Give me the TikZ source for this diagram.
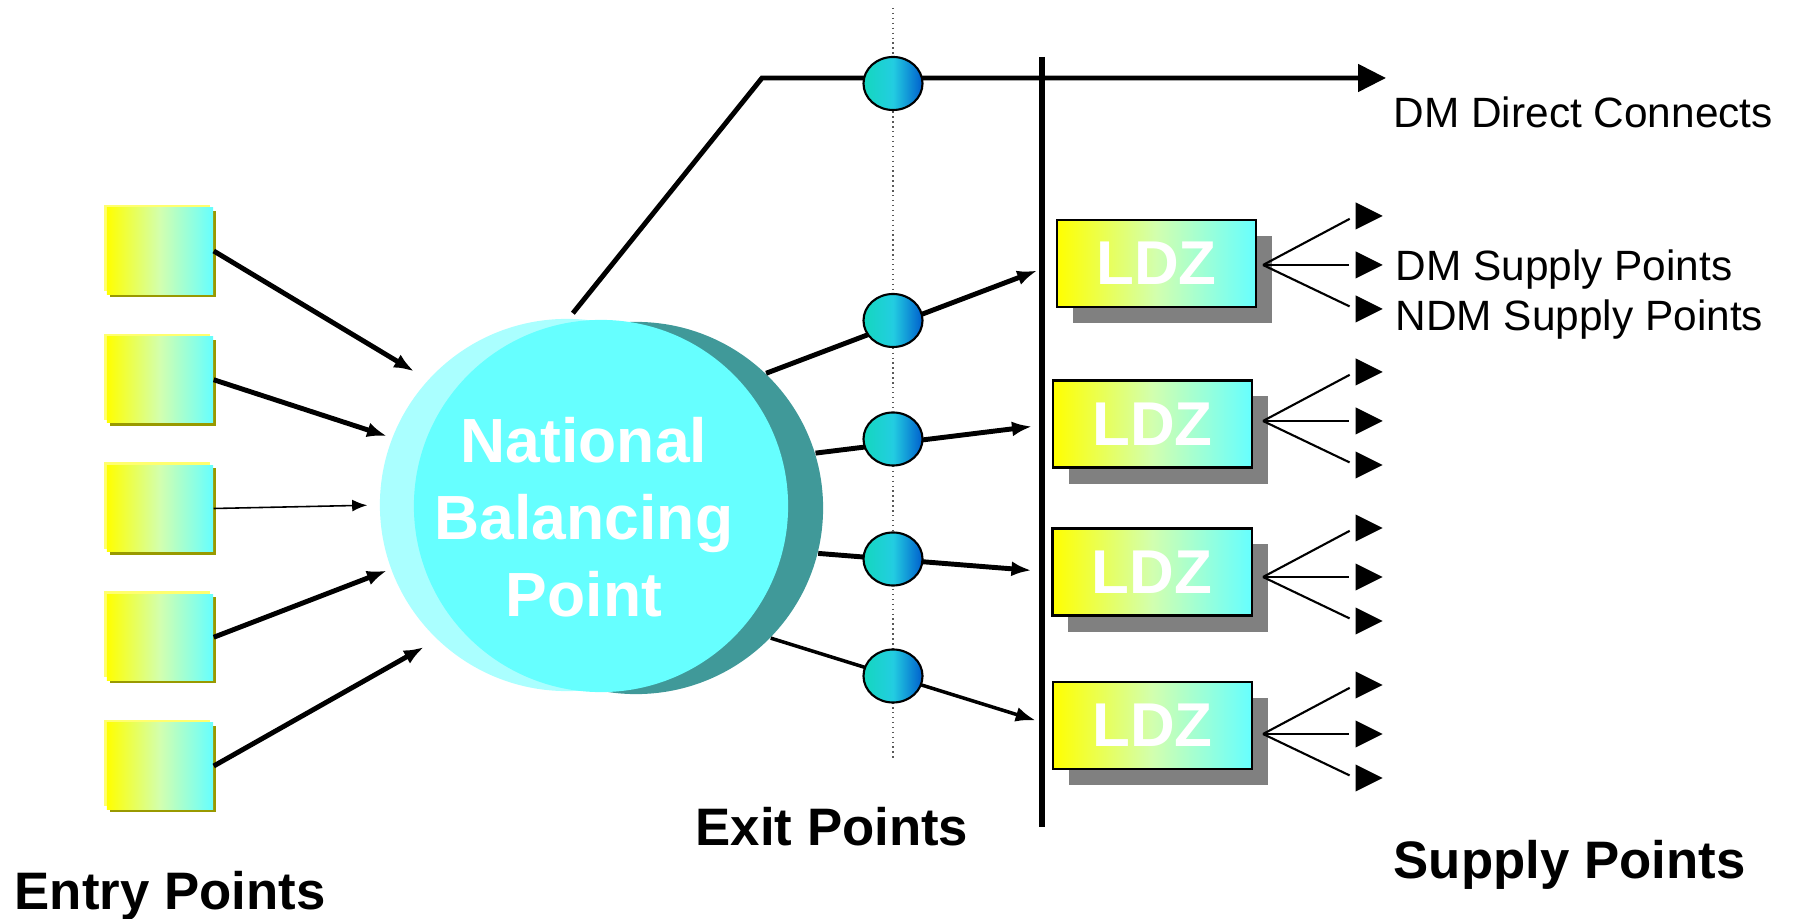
\documentclass[tikz,border=0pt]{standalone}
\usepackage{fontspec}
\setmainfont{Liberation Sans}
\usepackage{tikz}
\usetikzlibrary{positioning, shapes.geometric, arrows.meta, calc, shadows}

\definecolor{facecyan}{RGB}{102,255,255}
\definecolor{facemid}{RGB}{210,255,175}
\definecolor{rimyellow}{RGB}{255,255,110}
\definecolor{olivedark}{RGB}{153,153,0}
\definecolor{shadowgray}{RGB}{128,128,128}
\definecolor{nbpcyan}{RGB}{102,255,255}
\definecolor{nbplight}{RGB}{170,255,255}
\definecolor{nbpdark}{RGB}{64,153,153}
\definecolor{exitleft}{RGB}{20,215,190}
\definecolor{exitmid}{RGB}{35,205,225}
\definecolor{exitright}{RGB}{0,95,205}

\begin{document}
\begin{tikzpicture}[
    x=0.01cm, y=-0.01cm,
    >=Latex,
    % Styles
    entry/.style={ % Entry point box
        rectangle,
        minimum width=1.06cm,
        minimum height=0.86cm,
        left color=yellow,
        right color=facecyan,
        middle color=facemid,
        general shadow={shadow xshift=-0.03cm, shadow yshift=0.03cm, fill=rimyellow},
        general shadow={shadow xshift=0.03cm, shadow yshift=-0.03cm, fill=olivedark}
    },
    ldz/.style={ % Local distribution zone
        rectangle,
        draw,
        line width=0.6pt,
        minimum width=1.99cm,
        minimum height=0.87cm,
        left color=yellow,
        right color=facecyan,
        middle color=facemid,
        text=white,
        font=\bfseries\fontsize{17.6}{20}\selectfont,
        general shadow={shadow xshift=0.16cm, shadow yshift=-0.16cm, fill=shadowgray, draw=none}
    },
    exitpt/.style={ % Exit point marker
        ellipse,
        draw,
        line width=0.6pt,
        inner sep=0pt,
        minimum width=0.59cm,
        minimum height=0.53cm,
        left color=exitleft,
        right color=exitright,
        middle color=exitmid
    },
    disc/.style={ % Balancing point discs
        ellipse,
        inner sep=0pt,
        minimum width=3.74cm,
        minimum height=3.72cm
    },
    tip/.style={ % Supply arrow heads
        isosceles triangle,
        isosceles triangle stretches,
        fill=black,
        inner sep=0pt,
        minimum width=0.27cm,
        minimum height=0.27cm
    },
    arrow/.style={
        -{Latex[length=0.2cm, width=0.15cm]},
        line width=1.4pt
    },
    thinarrow/.style={
        -{Latex[length=0.15cm, width=0.12cm]},
        line width=0.45pt
    },
    feed/.style={ % Direct connect line
        -{Triangle[length=0.28cm, width=0.27cm]},
        line width=1.4pt
    },
    fan/.style={
        line width=0.6pt,
        shorten >=0.06cm
    },
    plaintext/.style={
        font=\fontsize{12.05}{14}\selectfont,
        inner sep=0pt,
        anchor=base west
    },
    boldtext/.style={
        font=\bfseries\fontsize{15}{18}\selectfont,
        inner sep=0pt,
        anchor=base west
    },
    nbptext/.style={
        font=\bfseries\fontsize{17.75}{21.9}\selectfont,
        text=white,
        align=center,
        inner sep=0pt
    }
]
    \useasboundingbox (0,0) rectangle (1797,919);

    % Exit point guide
    \coordinate (guide_top) at (893,8);
    \coordinate (guide_bot) at (893,759);
    \draw[densely dotted, line width=0.4pt, gray!70!black] (guide_top) -- (guide_bot);

    % National Balancing Point
    \node[disc, fill=nbpdark] (nbp_back) at (636,508) {};
    \node[disc, fill=nbplight] (nbp_rim) at (567,505) {};
    \node[disc, fill=nbpcyan] (nbp) at (601,506) {};
    \node[nbptext] (nbp_text) at (584,517) {National\\Balancing\\Point};

    % Entry points
    \foreach \i in {1,...,5}
        \node[entry] (entry_\i) at (160, {251+128.75*(\i-1)}) {};

    % Entry -> NBP
    \foreach \i/\a/\s in {1/138/0.16cm, 2/159/0.05cm, 4/200/0.04cm, 5/226/0.15cm}
        \draw[arrow, shorten >=\s] (entry_\i.east) -- (nbp_rim.\a);
    \draw[thinarrow, shorten >=0.12cm] (entry_3.east) -- (nbp_rim.180);

    % LDZ boxes
    \foreach \i/\x/\y in {1/1156.5/263.5, 2/1152.5/424, 3/1152/572, 4/1152.5/725.5}
        \node[ldz] (ldz_\i) at (\x,\y) {LDZ};

    % Supply bar
    \coordinate (bar_top) at (1042,57);
    \coordinate (bar_bot) at (1042,827);
    \draw[line width=1.45pt] (bar_top) -- (bar_bot);

    % Direct connects
    \coordinate (kink) at (762,78);
    \coordinate (dc_end) at (1386,78);
    \draw[feed, shorten <=0.12cm] (nbp.101) -- (kink) -- (dc_end);

    % NBP -> LDZ
    \foreach \i/\a in {1/46, 2/17, 3/346}
        \draw[arrow, shorten >=0.2cm] (nbp_back.\a) -- (ldz_\i.west);
    \draw[arrow, line width=1pt, shorten >=0.17cm] (nbp_back.316) -- (ldz_4.west);

    % Exit points
    \foreach \i/\y in {0/83.5, 1/320.5, 2/439, 3/559, 4/676}
        \node[exitpt] (exit_\i) at (893,\y) {};

    % LDZ -> supply points
    \foreach \i/\fy in {1/265, 2/421, 3/577, 4/734} {
        \coordinate (fan_\i) at (1263,\fy);
        \foreach \j/\d in {a/-49, b/0, c/44} {
            \node[tip, anchor=west] (tip_\i_\j) at (1355,\fy+\d) {};
            \draw[fan] (fan_\i) -- (tip_\i_\j.west);
        }
    }

    % Labels
    \node[plaintext] (dc_text) at (1393,128) {DM Direct Connects};
    \node[plaintext] (dm_text) at (1395,281) {DM Supply Points};
    \node[plaintext] (ndm_text) at (1395,331) {NDM Supply Points};
    \node[boldtext] (entry_text) at (14,909) {Entry Points};
    \node[boldtext] (exit_text) at (695,845) {Exit Points};
    \node[boldtext] (supply_text) at (1393,878) {Supply Points};
\end{tikzpicture}
\end{document}
